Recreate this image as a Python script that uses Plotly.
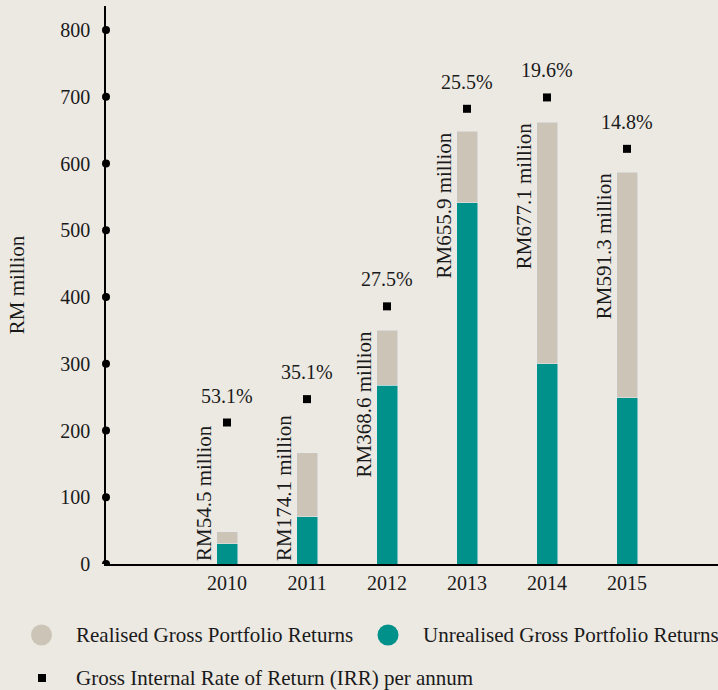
import plotly.graph_objects as go

years = ["2010", "2011", "2012", "2013", "2014", "2015"]
unrealised = [30, 71, 268, 541, 300, 249]
realised = [18, 96, 82, 107, 362, 338]
irr_marker = [212, 247, 386, 682, 699, 622]
irr_labels = ["53.1%", "35.1%", "27.5%", "25.5%", "19.6%", "14.8%"]
total_labels = ["RM54.5 million", "RM174.1 million", "RM368.6 million",
                "RM655.9 million", "RM677.1 million", "RM591.3 million"]
y_ticks = [0, 100, 200, 300, 400, 500, 600, 700, 800]

BG = "#ECE9E3"
TEAL = "#00918B"
BEIGE = "#CCC5B7"
FONT = "Liberation Serif"
TXT = "#1a1a1a"
FS_NUM = 20
FS_TXT = 21

idx = list(range(len(years)))

fig = go.Figure()
fig.add_trace(go.Bar(x=idx, y=unrealised, marker_color=TEAL, width=0.2625,
                     name="Unrealised Gross Portfolio Returns", showlegend=False))
fig.add_trace(go.Bar(x=idx, y=realised, marker_color=BEIGE, width=0.2625,
                     name="Realised Gross Portfolio Returns", showlegend=False))
fig.add_trace(go.Scatter(x=idx, y=irr_marker, mode="markers",
                         marker=dict(symbol="square", size=8, color="black"),
                         name="Gross Internal Rate of Return (IRR) per annum",
                         showlegend=False))

annotations = []
for i, yv, lab in zip(idx, irr_marker, irr_labels):
    annotations.append(dict(x=i, y=yv, text=lab, showarrow=False, yshift=27,
                            font=dict(family=FONT, size=FS_NUM, color=TXT)))
for i, u, r, lab in zip(idx, unrealised, realised, total_labels):
    tot = u + r
    if tot < 220:
        annotations.append(dict(x=i, y=0, text=lab, showarrow=False, textangle=-90,
                                xshift=-23, yanchor="bottom", yshift=1,
                                font=dict(family=FONT, size=FS_TXT, color=TXT)))
    else:
        annotations.append(dict(x=i, y=tot, text=lab, showarrow=False, textangle=-90,
                                xshift=-23, yanchor="top", yshift=1,
                                font=dict(family=FONT, size=FS_TXT, color=TXT)))

# y-axis title
annotations.append(dict(xref="paper", yref="paper", x=-0.145, y=0.5, text="RM million",
                        textangle=-90, showarrow=False, xanchor="center", yanchor="middle",
                        font=dict(family=FONT, size=FS_TXT, color=TXT)))

shapes = []
for t in y_ticks:
    shapes.append(dict(type="circle", xref="paper", yref="y", xsizemode="pixel",
                       ysizemode="pixel", xanchor=0, yanchor=t, x0=-4, x1=4, y0=-4, y1=4,
                       fillcolor="black", line=dict(width=0)))

# custom legend
W, H = 612, 558
def px_x(p):
    return (p - 106) / W
def px_y(p):
    return (564 - p) / H

legend_items = [
    ("circle", BEIGE, 41.5, 635, 21, "Realised Gross Portfolio Returns", 74),
    ("circle", TEAL, 388, 635, 21, "Unrealised Gross Portfolio Returns", 421),
    ("rect", "black", 42, 678, 8, "Gross Internal Rate of Return (IRR) per annum", 74),
]
for kind, col, cx, cy, sz, txt, tx in legend_items:
    h = sz / 2
    shapes.append(dict(type=kind, xref="paper", yref="paper", xsizemode="pixel",
                       ysizemode="pixel", xanchor=px_x(cx), yanchor=px_y(cy),
                       x0=-h, x1=h, y0=-h, y1=h, fillcolor=col, line=dict(width=0)))
    annotations.append(dict(xref="paper", yref="paper", x=px_x(tx), y=px_y(cy), text=txt,
                            showarrow=False, xanchor="left", yanchor="middle",
                            font=dict(family=FONT, size=FS_TXT, color=TXT)))

fig.update_layout(
    width=718, height=690,
    barmode="stack",
    paper_bgcolor=BG, plot_bgcolor=BG,
    margin=dict(l=106, r=0, t=6, b=126),
    font=dict(family=FONT, size=FS_NUM, color=TXT),
    showlegend=False,
    annotations=annotations,
    shapes=shapes,
    xaxis=dict(range=[-1.5125, 6.1375], tickvals=idx, ticktext=years,
               showline=True, linecolor="black",
               linewidth=1.5, showgrid=False, zeroline=False, ticks="", ticklabelstandoff=0,
               tickfont=dict(family=FONT, size=FS_NUM, color=TXT)),
    yaxis=dict(range=[0, 836], tickvals=y_ticks, showline=True, linecolor="black",
               linewidth=1.5, showgrid=False, zeroline=False, ticks="", ticklabelstandoff=10,
               tickfont=dict(family=FONT, size=FS_NUM, color=TXT)),
)

fig.write_html("out.html", config={"displayModeBar": False},
               post_script="document.body.style.margin='0';document.body.style.padding='0';"
                           "document.body.style.overflow='hidden';")
